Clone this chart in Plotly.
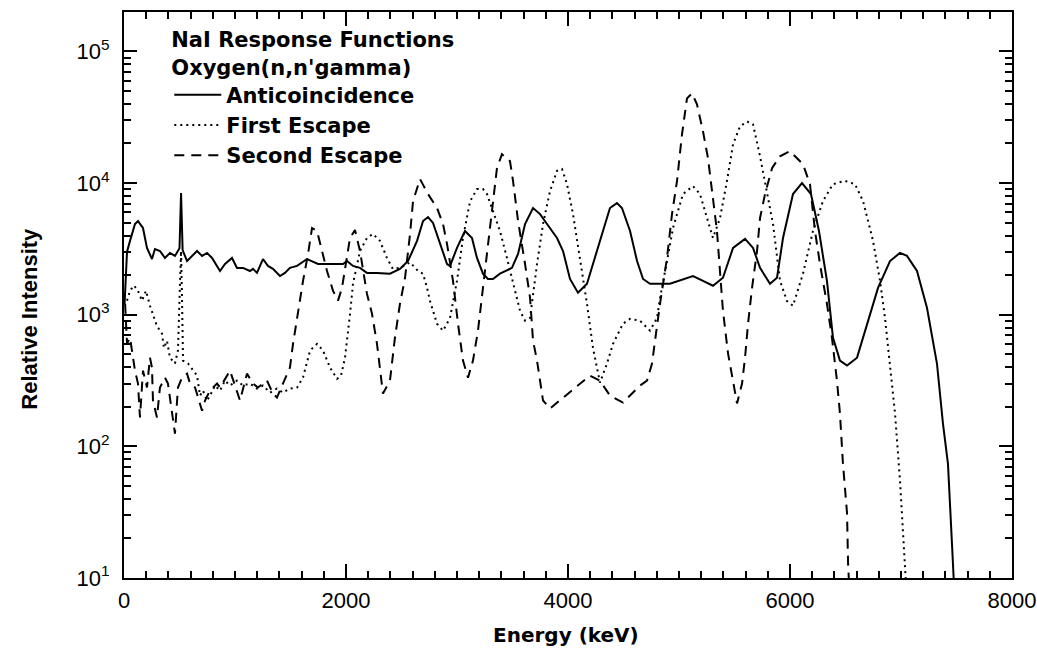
import plotly.graph_objects as go

# ---------------- data ----------------
energy_anti = [5, 27, 54, 99, 126, 162, 171, 207, 252, 279, 324, 369, 414, 459, 486, 500, 514, 528,
               568, 613, 658, 703, 748, 793, 865, 910, 973, 1018, 1072, 1135, 1162, 1198, 1252, 1297,
               1342, 1405, 1450, 1495, 1559, 1649, 1694, 1748, 1973, 2009, 2063, 2126, 2189, 2279,
               2396, 2486, 2559, 2640, 2694, 2739, 2784, 2847, 2910, 2937, 3000, 3072, 3135, 3180,
               3234, 3279, 3324, 3387, 3495, 3550, 3613, 3685, 3748, 3811, 3901, 3955, 4018, 4090,
               4171, 4225, 4315, 4378, 4441, 4486, 4559, 4622, 4676, 4739, 4919, 5126, 5216, 5306,
               5396, 5487, 5595, 5667, 5730, 5820, 5883, 5937, 6027, 6108, 6189, 6261, 6333, 6387,
               6450, 6514, 6604, 6694, 6793, 6901, 6991, 7054, 7144, 7234, 7324, 7378, 7423, 7459, 7477]
anti = [1200, 3000, 3640, 4890, 5150, 4720, 4560, 3220, 2650, 3160, 3050, 2700, 2950, 2800, 3050, 3200,
        8400, 3100, 2560, 2800, 3050, 2800, 2950, 2700, 2150, 2430, 2700, 2270, 2270, 2150, 2230, 2080,
        2650, 2350, 2230, 1970, 2080, 2270, 2350, 2650, 2560, 2430, 2430, 2560, 2350, 2270, 2080, 2080,
        2050, 2230, 2560, 3640, 5150, 5520, 4980, 3450, 2430, 2350, 3220, 4330, 3830, 2700, 2050, 1870,
        1870, 2050, 2270, 2900, 4890, 6470, 5820, 4890, 3830, 3050, 1870, 1470, 1720, 2430, 4330, 6470,
        7050, 6470, 4330, 2560, 1870, 1720, 1720, 1970, 1810, 1660, 1910, 3220, 3770, 3220, 2270, 1720,
        1910, 3830, 8260, 10000, 8260, 4330, 1810, 670, 448, 411, 472, 855, 1600, 2560, 2950, 2800, 2150,
        1130, 426, 149, 74, 18.4, 9]

energy_first = [27, 54, 90, 126, 162, 198, 234, 261, 297, 342, 360, 387, 414, 459, 486, 505, 514, 523,
                532, 577, 622, 658, 685, 712, 748, 775, 820, 865, 910, 955, 1018, 1072, 1135, 1198,
                1252, 1315, 1378, 1432, 1495, 1559, 1613, 1676, 1739, 1793, 1856, 1919, 1955, 1991,
                2036, 2063, 2126, 2189, 2243, 2306, 2369, 2423, 2486, 2577, 2649, 2694, 2730, 2757,
                2820, 2874, 2937, 3000, 3054, 3117, 3180, 3234, 3270, 3324, 3387, 3450, 3505, 3568,
                3613, 3658, 3721, 3775, 3838, 3901, 3946, 3991, 4045, 4108, 4171, 4225, 4288, 4351,
                4405, 4495, 4559, 4649, 4739, 4802, 4829, 4892, 4946, 5036, 5126, 5189, 5252, 5306,
                5369, 5432, 5487, 5550, 5613, 5667, 5730, 5793, 5847, 5910, 5973, 6027, 6117, 6207,
                6297, 6387, 6495, 6586, 6658, 6748, 6811, 6856, 6901, 6946, 6991, 7018, 7045]
first = [1280, 1520, 1670, 1520, 1280, 1520, 1170, 1010, 820, 718, 560, 635, 472, 426, 535, 1810, 3050,
         1280, 448, 426, 378, 345, 243, 265, 222, 243, 290, 265, 316, 290, 316, 290, 300, 275, 290, 256,
         275, 256, 275, 280, 334, 535, 600, 535, 397, 326, 345, 472, 1010, 1720, 3050, 3830, 4110, 3640,
         2700, 2230, 2270, 2500, 2150, 2050, 1600, 1270, 855, 757, 945, 1810, 3830, 7250, 9010, 9010,
         8260, 6150, 4330, 2700, 1720, 1070, 901, 945, 2430, 4890, 8700, 12400, 12800, 9820, 5820, 2700,
         1210, 560, 305, 426, 600, 855, 930, 900, 757, 945, 1340, 2560, 4560, 8260, 9490, 8260, 5400,
         3830, 5400, 10360, 19750, 27000, 29400, 27900, 16000, 8700, 4890, 1810, 1270, 1170, 2050, 4330,
         7310, 9820, 10400, 9820, 7310, 3640, 1810, 945, 426, 178, 55, 23, 9]

energy_second = [10, 27, 54, 99, 126, 144, 171, 207, 234, 252, 261, 297, 324, 369, 396, 441, 459, 486,
                 523, 568, 595, 640, 703, 730, 775, 838, 865, 955, 1018, 1045, 1108, 1162, 1207, 1288,
                 1342, 1378, 1432, 1495, 1523, 1568, 1613, 1658, 1694, 1739, 1784, 1829, 1883, 1928,
                 1964, 1991, 2036, 2081, 2126, 2189, 2234, 2279, 2306, 2333, 2396, 2441, 2486, 2532,
                 2577, 2604, 2667, 2739, 2820, 2874, 2910, 2964, 3009, 3054, 3099, 3144, 3189, 3234,
                 3279, 3324, 3360, 3405, 3477, 3505, 3550, 3613, 3658, 3685, 3721, 3748, 3775, 3838,
                 4000, 4198, 4288, 4378, 4495, 4649, 4712, 4757, 4784, 4829, 4892, 4937, 4982, 5027,
                 5072, 5117, 5162, 5216, 5261, 5306, 5342, 5369, 5396, 5442, 5487, 5523, 5568, 5595,
                 5622, 5658, 5703, 5730, 5775, 5838, 5910, 6000, 6117, 6180, 6225, 6270, 6333, 6378,
                 6423, 6450, 6477, 6514, 6523, 6532]
second = [1210, 603, 670, 376, 300, 166, 376, 280, 472, 397, 223, 166, 280, 333, 300, 166, 125, 280, 333,
          357, 300, 280, 187, 223, 266, 300, 280, 376, 266, 223, 357, 300, 280, 316, 252, 235, 300, 397,
          603, 1072, 1810, 2900, 4560, 4330, 3050, 2150, 1520, 1280, 1600, 2270, 3830, 4400, 3050, 1440,
          1020, 603, 376, 252, 316, 670, 1210, 1910, 4110, 7310, 10720, 8260, 6470, 4890, 3450, 1810,
          855, 448, 333, 448, 757, 1600, 3640, 7700, 13000, 16600, 14700, 10360, 5150, 2430, 1350, 635,
          448, 316, 223, 194, 252, 345, 316, 243, 215, 290, 316, 426, 635, 1210, 2700, 5820, 10360,
          23500, 44000, 48100, 39700, 24800, 15500, 7700, 4330, 2150, 1072, 507, 316, 212, 300, 472,
          855, 1600, 3050, 5430, 8260, 13000, 16000, 17500, 13900, 9820, 4330, 2430, 1210, 670, 316,
          178, 74, 31, 13, 9]

series_names = ["Anticoincidence", "First Escape", "Second Escape"]
legend_title = "NaI Response Functions<br>Oxygen(n,n'gamma)"
x_title = "Energy (keV)"
y_title = "Relative Intensity"
x_tickvals = [0, 2000, 4000, 6000, 8000]
x_ticktext = ["0", "2000", "4000", "6000", "8000"]
y_tickvals = [10, 100, 1000, 10000, 100000]
y_ticktext = ["10<sup>1</sup>", "10<sup>2</sup>", "10<sup>3</sup>", "10<sup>4</sup>", "10<sup>5</sup>"]
y_minor = [m * 10 ** k for k in range(1, 5) for m in range(2, 10)] + [200000]

# ---------------- figure ----------------
TICK_FONT = "Liberation Sans, Arial, sans-serif"
BOLD_FONT = "DejaVu Sans, Verdana, sans-serif"
fig = go.Figure()
fig.add_trace(go.Scatter(x=energy_anti, y=anti, mode="lines", name=series_names[0],
                         line=dict(color="black", width=2, dash="solid")))
fig.add_trace(go.Scatter(x=energy_first, y=first, mode="lines", name=series_names[1],
                         line=dict(color="black", width=2, dash="2px,4px")))
fig.add_trace(go.Scatter(x=energy_second, y=second, mode="lines", name=series_names[2],
                         line=dict(color="black", width=2, dash="10px,7px")))

axis_common = dict(showline=True, linecolor="black", linewidth=2, mirror="allticks",
                   ticks="inside", tickcolor="black", tickwidth=1.5, showgrid=False,
                   zeroline=False, automargin=False,
                   tickfont=dict(family=TICK_FONT, size=22, color="black"))

fig.update_xaxes(range=[0, 8000], tickmode="array", tickvals=x_tickvals, ticktext=x_ticktext,
                 ticklen=14, ticklabelstandoff=2,
                 minor=dict(ticks="inside", ticklen=7, dtick=200, tickcolor="black",
                            tickwidth=1.5, showgrid=False),
                 **axis_common)
fig.update_yaxes(type="log", range=[1, 5.3], tickmode="array", tickvals=y_tickvals,
                 ticktext=y_ticktext, ticklen=13, ticklabelstandoff=8,
                 minor=dict(ticks="inside", ticklen=7, tickmode="array", tickvals=y_minor,
                            tickcolor="black", tickwidth=1.5, showgrid=False),
                 **axis_common)

fig.update_layout(
    width=1037, height=660, autosize=False,
    margin=dict(l=124, r=25, t=12, b=82, autoexpand=False),
    paper_bgcolor="white", plot_bgcolor="white",
    showlegend=True,
    legend=dict(x=0.051, y=0.986, xanchor="left", yanchor="top",
                bgcolor="rgba(0,0,0,0)", borderwidth=0, itemwidth=47,
                font=dict(family=BOLD_FONT, size=21, color="black", weight="bold"),
                title=dict(text=legend_title, side="top",
                           font=dict(family=BOLD_FONT, size=21, color="black", weight="bold"))),
    annotations=[
        dict(text=x_title, xref="paper", yref="paper", x=0.498, y=-0.101, yanchor="middle",
             xanchor="center", showarrow=False,
             font=dict(family=BOLD_FONT, size=20, color="black", weight="bold")),
        dict(text=y_title, xref="paper", yref="paper", x=-0.106, y=0.458, textangle=-90,
             xanchor="center", yanchor="middle", showarrow=False,
             font=dict(family=TICK_FONT, size=22, color="black", weight="bold")),
    ],
)

fig.write_html("out.html", config={"displayModeBar": False},
               post_script="document.body.style.margin='0';document.body.style.overflow='hidden';")
